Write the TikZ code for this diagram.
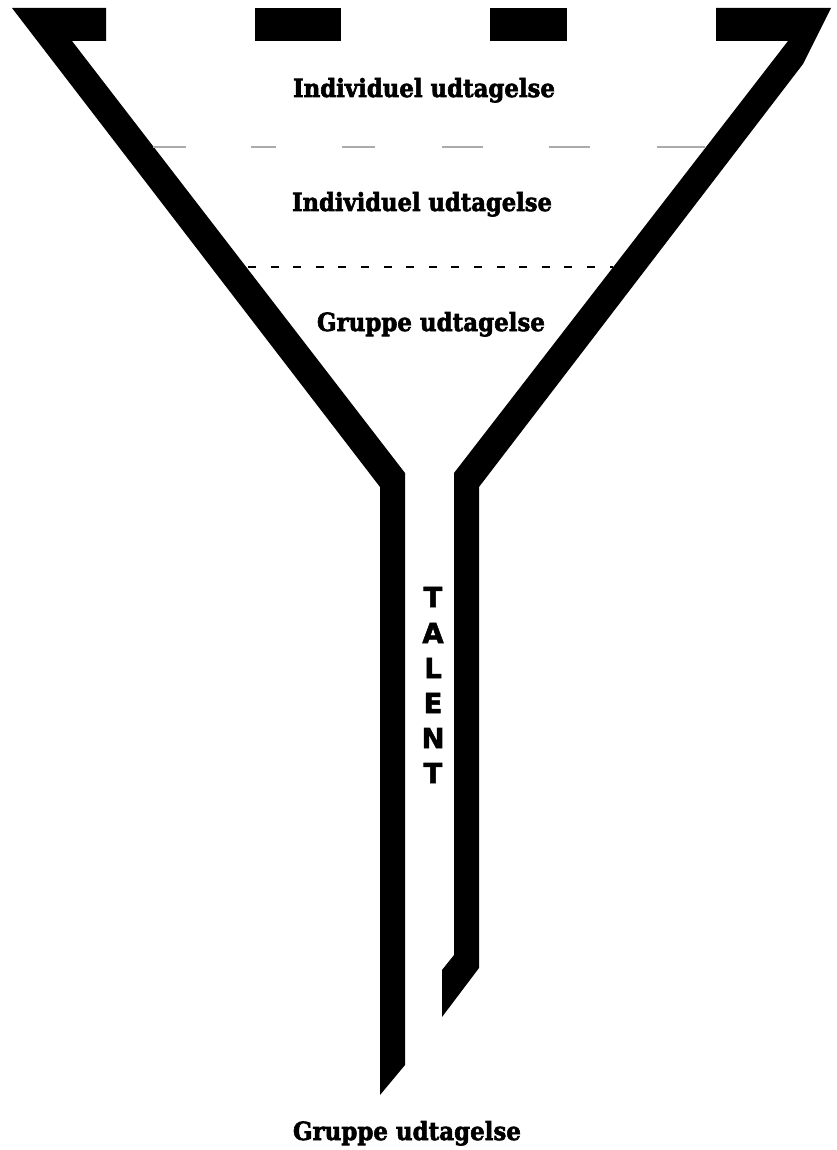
\documentclass[tikz,border=0pt]{standalone}
\usepackage{fontspec}
\newfontfamily\lblfont{DejaVu Serif}[BoldFeatures={FakeBold=2.5}]
\newfontfamily\talfont{DejaVu Sans}[BoldFeatures={FakeBold=2}]
\begin{document}
\begin{tikzpicture}[x=1pt,y=-1pt,
  wall/.style={fill=black,draw=none},
  greydash/.style={draw=black!33,line width=1.5pt},
  blackdash/.style={draw=black,line width=1.8pt,dash pattern=on 8pt off 14.6pt},
  lbl/.style={inner sep=0pt,anchor=base}]
\useasboundingbox[fill=white] (0,0) rectangle (836,1150);
% left wall
\fill[wall] (12,8) -- (106,8) -- (106,41) -- (72,41) -- (405,473) -- (405,1065) -- (380,1095) -- (380,487) -- cycle;
% right wall
\fill[wall] (716,8) -- (831,8) -- (803,64) -- (479,487) -- (479,968) -- (442,1017) -- (442,970) -- (454,955) -- (454,473) -- (788,41) -- (716,41) -- cycle;
% top bars
\fill[wall] (255,8) rectangle (341,41);
\fill[wall] (490,8) rectangle (567,41);
% grey dashed line
\foreach \a/\b in {153/186,251/276,342/375,442/483,549/590,657/705}
  \draw[greydash] (\a,147) -- (\b,147);
% black dashed line
\coordinate (dl) at (248,267);
\coordinate (dr) at (613,267);
\draw[blackdash] (dl) -- (dr);
% labels
\node[lbl] (ind1) at (424,97) {\resizebox{262pt}{\height}{\lblfont\fontsize{25}{28}\selectfont\bfseries Individuel udtagelse}};
\node[lbl] (ind2) at (422,211) {\resizebox{260pt}{\height}{\lblfont\fontsize{25}{28}\selectfont\bfseries Individuel udtagelse}};
\node[lbl] (grp1) at (431,331) {\resizebox{228pt}{\height}{\lblfont\fontsize{25}{28}\selectfont\bfseries Gruppe udtagelse}};
\node[lbl] (grp2) at (407,1140) {\resizebox{228pt}{\height}{\lblfont\fontsize{25}{28}\selectfont\bfseries Gruppe udtagelse}};
% TALENT
\foreach \l/\y [count=\i] in {T/607,A/643,L/678,E/713,N/748,T/783}
  \node[lbl] (tal\i) at (433,\y) {\resizebox{!}{20pt}{\talfont\bfseries \l}};
\end{tikzpicture}
\end{document}
